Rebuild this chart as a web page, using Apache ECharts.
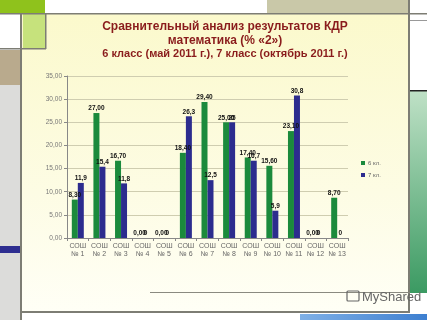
<!DOCTYPE html>
<html><head><meta charset="utf-8">
<script src="https://cdn.jsdelivr.net/npm/echarts@6/dist/echarts.min.js"></script>
<style>html,body{margin:0;padding:0;background:#fff}#c{width:427px;height:320px}</style>
</head><body><div id="c"></div>
<script>
const titleLine1 = 'Сравнительный анализ результатов КДР';
const titleLine2 = 'математика (% «2»)';
const titleLine3 = '6 класс (май 2011 г.), 7 класс (октябрь 2011 г.)';
const categories = ['СОШ\n№ 1','СОШ\n№ 2','СОШ\n№ 3','СОШ\n№ 4','СОШ\n№ 5','СОШ\n№ 6','СОШ\n№ 7','СОШ\n№ 8','СОШ\n№ 9','СОШ\n№ 10','СОШ\n№ 11','СОШ\n№ 12','СОШ\n№ 13'];
const seriesNames = ['6 кл.', '7 кл.'];
const grade6 = [8.3, 27.0, 16.7, 0, 0, 18.4, 29.4, 25.0, 17.4, 15.6, 23.1, 0, 8.7];
const grade7 = [11.9, 15.4, 11.8, 0, 0, 26.3, 12.5, 25, 16.7, 5.9, 30.8, 0, 0];
const yTicks = [0, 5, 10, 15, 20, 25, 30, 35];

const chart = echarts.init(document.getElementById('c'), null, {renderer:'canvas'});
const lineCol = '#7d7d74';
const titleCol = '#8a1c1c';
const labelBase = {show:true, position:'top', distance:1, fontSize:6.5, fontWeight:'bold', color:'#111', fontFamily:'Liberation Sans'};
chart.setOption({
  animation:false,
  backgroundColor:'#ffffff',
  graphic:[
    {type:'rect', z:-10, shape:{x:22,y:14,width:386,height:298}, style:{fill:new echarts.graphic.LinearGradient(0,0,0,1,[{offset:0,color:'#fbf9cc'},{offset:0.6,color:'#fdfce4'},{offset:1,color:'#fffff6'}])}},
    {type:'rect', z:-10, shape:{x:0,y:0,width:45,height:13}, style:{fill:'#8fc21c'}},
    {type:'rect', z:-10, shape:{x:267,y:0,width:141,height:13}, style:{fill:'#c9c8a8'}},
    {type:'rect', z:-10, shape:{x:23,y:14,width:22,height:34}, style:{fill:'#c6e27c'}},
    {type:'rect', z:-10, shape:{x:0,y:50,width:20,height:35}, style:{fill:'#b9aa8d'}},
    {type:'rect', z:-10, shape:{x:0,y:85,width:20,height:235}, style:{fill:'#dcdcda'}},
    {type:'rect', z:-10, shape:{x:0,y:246,width:20,height:7}, style:{fill:'#2e2e90'}},
    {type:'rect', z:-10, shape:{x:410,y:91,width:17,height:202}, style:{fill:new echarts.graphic.LinearGradient(0,0,0,1,[{offset:0,color:'#bfe1c6'},{offset:1,color:'#3b9a62'}])}},
    {type:'rect', z:-10, shape:{x:410,y:90,width:17,height:1.5}, style:{fill:'#222'}},
    {type:'rect', z:-10, shape:{x:300,y:314,width:127,height:6}, style:{fill:new echarts.graphic.LinearGradient(0,0,1,0,[{offset:0,color:'#7fb0e6'},{offset:1,color:'#3d7fd0'}])}},
    {type:'rect', z:-9, shape:{x:0,y:13,width:427,height:1.5}, style:{fill:lineCol}},
    {type:'rect', z:-9, shape:{x:410,y:20,width:17,height:1}, style:{fill:'#999'}},
    {type:'rect', z:-9, shape:{x:20,y:14,width:2,height:306}, style:{fill:lineCol}},
    {type:'rect', z:-9, shape:{x:45,y:14,width:1.5,height:35}, style:{fill:lineCol}},
    {type:'rect', z:-9, shape:{x:0,y:48,width:46,height:1.5}, style:{fill:lineCol}},
    {type:'rect', z:-9, shape:{x:408,y:0,width:2,height:313}, style:{fill:lineCol}},
    {type:'rect', z:-9, shape:{x:20,y:311,width:390,height:2}, style:{fill:lineCol}},
    {type:'rect', z:-9, shape:{x:150,y:292,width:260,height:1}, style:{fill:'#8a8a80'}},
    {type:'text', x:225, y:27, style:{text:titleLine1, fill:titleCol, font:'bold 12px "Liberation Sans"', align:'center', verticalAlign:'middle'}},
    {type:'text', x:225, y:41, style:{text:titleLine2, fill:titleCol, font:'bold 12px "Liberation Sans"', align:'center', verticalAlign:'middle'}},
    {type:'text', x:225, y:54, style:{text:titleLine3, fill:titleCol, font:'bold 11px "Liberation Sans"', align:'center', verticalAlign:'middle'}},
    {type:'rect', shape:{x:347,y:291,width:12,height:10,r:1}, style:{fill:'none', stroke:'#666', lineWidth:1.2}},
    {type:'text', x:362, y:297, style:{text:'MyShared', fill:'#666', font:'13px "Liberation Sans"', align:'left', verticalAlign:'middle'}}
  ],
  legend:{
    orient:'vertical', left:356, top:155, itemWidth:4, itemHeight:4, itemGap:6,
    icon:'rect', data:seriesNames,
    textStyle:{fontSize:6, color:'#666', fontFamily:'Liberation Sans', padding:[0,0,0,-2]}
  },
  grid:{left:67, right:79, top:76, bottom:82, containLabel:false},
  xAxis:{
    type:'category', data:categories,
    axisLine:{lineStyle:{color:'#888'}},
    axisTick:{show:true, length:3, lineStyle:{color:'#888'}},
    axisLabel:{interval:0, fontSize:7, lineHeight:8, color:'#666', margin:4, fontFamily:'Liberation Sans'}
  },
  yAxis:{
    type:'value', min:yTicks[0], max:yTicks[yTicks.length-1], interval:5,
    axisLine:{show:true, lineStyle:{color:'#888'}},
    axisTick:{show:true, length:3, lineStyle:{color:'#888'}},
    splitLine:{lineStyle:{color:'#cfcdb0'}},
    axisLabel:{fontSize:6.5, color:'#777', margin:5, fontFamily:'Liberation Sans',
      formatter:v=>v.toFixed(2).replace('.',',')}
  },
  series:[
    {name:seriesNames[0], type:'bar', data:grade6, barWidth:6, barGap:'0%', itemStyle:{color:'#1b8a3c'},
     label:Object.assign({}, labelBase, {formatter:p=>p.value.toFixed(2).replace('.',',')})},
    {name:seriesNames[1], type:'bar', data:grade7, barWidth:6, barGap:'0%', itemStyle:{color:'#2c2c8e'},
     label:Object.assign({}, labelBase, {formatter:p=>String(p.value).replace('.',',')})}
  ]
});
</script></body></html>
